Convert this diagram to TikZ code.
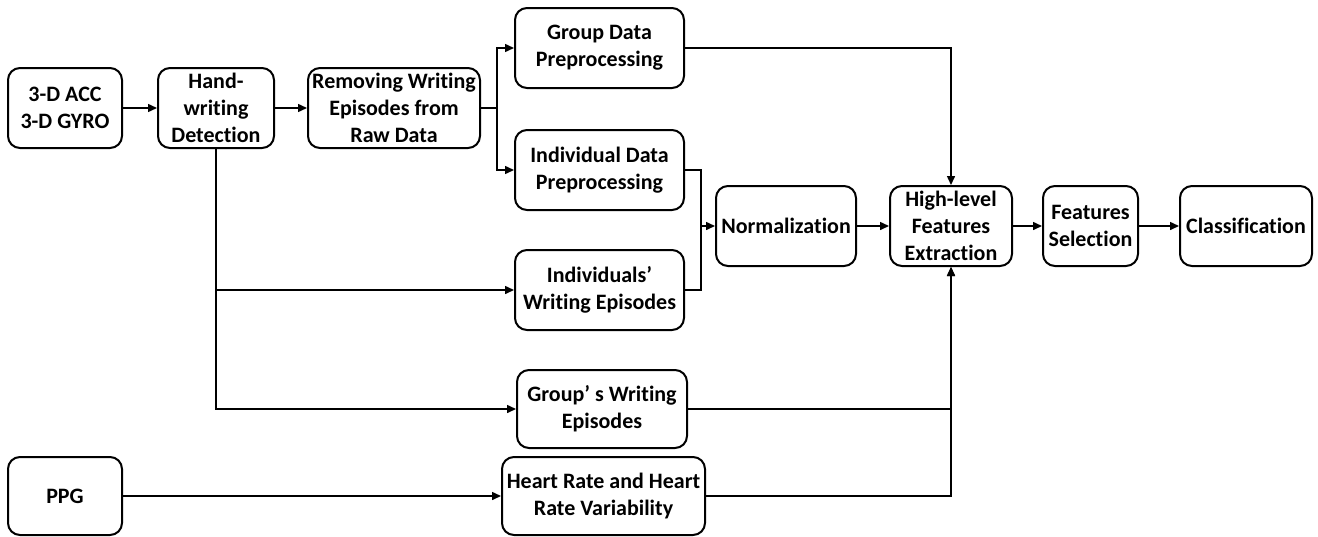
\documentclass[tikz,border=0pt]{standalone}
\usepackage{fontspec}
\setmainfont{Carlito}[Ligatures=NoCommon]
\usetikzlibrary{arrows.meta}

\tikzset{every picture/.style={line width=0.75pt}}
\tikzset{
  stagebox/.style={draw, line width=1pt, rounded corners=6pt, inner sep=0pt,
    align=center, font=\fontsize{11}{13.5}\selectfont\bfseries},
  flow/.style={-{Triangle[length=4.5pt,width=4pt]}, line width=0.75pt},
}

\begin{document}
\begin{tikzpicture}[x=0.5pt,y=0.5pt,yscale=-1,xscale=1]
    \useasboundingbox (0,0) rectangle (1318,536);

    % Sensor inputs
    \node [stagebox, minimum width=57pt, minimum height=40pt] (sens) at (65,108) {3-D ACC\\3-D GYRO};
    \node [stagebox, minimum width=57pt, minimum height=39pt] (ppg) at (65,496) {PPG};

    % Detection and removing
    \node [stagebox, minimum width=58pt, minimum height=40pt] (hwd) at (216,108) {Hand-\\writing\\Detection};
    \node [stagebox, minimum width=86pt, minimum height=40pt] (rem) at (394,108) {Removing Writing\\Episodes from\\Raw Data};

    % Preprocessing branch
    \node [stagebox, minimum width=84.5pt, minimum height=40pt] (gdp) at (599.5,48) {Group Data\\Preprocessing};
    \node [stagebox, minimum width=84.5pt, minimum height=40pt] (idp) at (599.5,170) {Individual Data\\Preprocessing};
    \node [stagebox, minimum width=84.5pt, minimum height=40pt] (iwe) at (599.5,290) {Individuals’\\Writing Episodes};
    \node [stagebox, minimum width=85pt, minimum height=39pt] (gwe) at (602,409) {Group’ s Writing\\Episodes};
    \node [stagebox, minimum width=101.5pt, minimum height=39pt] (hrv) at (603.5,496) {Heart Rate and Heart\\Rate Variability};

    % Main chain
    \node [stagebox, minimum width=70pt, minimum height=40pt] (nrm) at (786,226) {Normalization};
    \node [stagebox, minimum width=61pt, minimum height=40pt] (hfe) at (951,226) {High-level\\Features\\Extraction};
    \node [stagebox, minimum width=47.5pt, minimum height=40pt] (fsel) at (1090.5,226) {Features\\Selection};
    \node [stagebox, minimum width=66pt, minimum height=40pt] (cls) at (1246,226) {Classification};

    % Junction points
    \coordinate (jrem) at (497,108);
    \coordinate (jind) at (701,226);

    \draw [flow] (sens) -- (hwd);
    \draw [flow] (hwd) -- (rem);
    \draw (rem.east) -- (jrem);
    \draw [flow] (jrem) |- (gdp.west);
    \draw [flow] (jrem) |- (idp.west);
    \draw [flow] (hwd.south) |- (gwe.west);
    \draw [flow] (hwd.south |- iwe.west) -- (iwe.west);
    \draw (idp.east) -| (jind) |- (iwe.east);
    \draw [flow] (jind) -- (nrm.west);
    \draw [flow] (nrm) -- (hfe);
    \draw [flow] (gdp.east) -| (hfe.north);
    \draw [flow] (gwe.east) -| (hfe.south);
    \draw [flow] (hrv.east) -| (hfe.south);
    \draw [flow] (ppg) -- (hrv);
    \draw [flow] (hfe) -- (fsel);
    \draw [flow] (fsel) -- (cls);

\end{tikzpicture}
\end{document}
